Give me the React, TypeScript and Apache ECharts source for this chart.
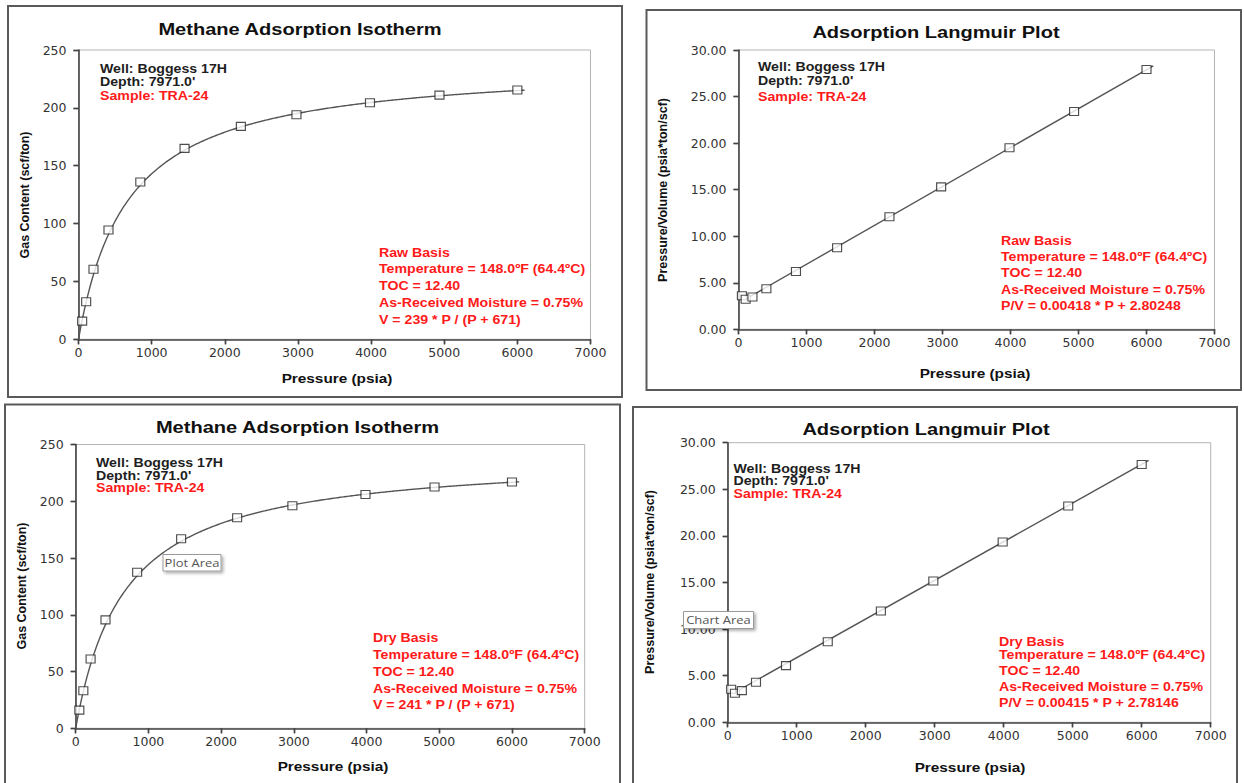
import React, { useEffect, useRef } from "react";
import * as echarts from "echarts";

// Measured isotherm points (pressure in psia)
const PRESSURE = [50, 105, 205, 410, 845, 1450, 2220, 2980, 3985, 4935, 6000];
const GAS_RAW = [15.7, 32.5, 60.5, 94.5, 136, 165, 184, 194, 204.5, 211, 215.5];
const GAS_DRY = [16, 33, 61, 95.5, 137.5, 167, 185.5, 196, 206, 212.5, 217];
const PV_RAW = [3.6, 3.22, 3.47, 4.35, 6.2, 8.75, 12.1, 15.3, 19.5, 23.4, 27.9];
const PV_DRY = [3.55, 3.12, 3.4, 4.3, 6.08, 8.65, 11.95, 15.15, 19.35, 23.2, 27.65];

// Langmuir fit parameters
const RAW_VL = 239;
const RAW_PL = 671;
const DRY_VL = 241;
const DRY_PL = 671;
const RAW_SLOPE = 0.00418;
const RAW_INTERCEPT = 2.80248;
const DRY_SLOPE = 0.00415;
const DRY_INTERCEPT = 2.78146;

const HEADER_LINES = ["Well: Boggess 17H", "Depth: 7971.0'", "Sample: TRA-24"];
const CONDITIONS = ["Temperature = 148.0\u00BAF (64.4\u00BAC)", "TOC = 12.40", "As-Received Moisture = 0.75%"];

const ISO_TITLE = "Methane Adsorption Isotherm";
const LANG_TITLE = "Adsorption Langmuir Plot";
const X_NAME = "Pressure (psia)";
const ISO_Y_NAME = "Gas Content (scf/ton)";
const LANG_Y_NAME = "Pressure/Volume (psia*ton/scf)";

const FIT_END = 6100;
const LINE_START = 100;

const BOLD = '"Liberation Sans", Arial, sans-serif';
const TICK_FONT = '"DejaVu Sans", sans-serif';
const RED = "#ff1a1a";
const INK = "#1e1e1e";
// the sheet's text is set slightly wide
const WIDE = 1.18;

function isothermCurve(vl: number, pl: number) {
  const pts: number[][] = [];
  for (let p = 0; p <= FIT_END; p += 20) pts.push([p, (vl * p) / (p + pl)]);
  return pts;
}

function langmuirLine(slope: number, intercept: number) {
  return [LINE_START, FIT_END].map((p) => [p, slope * p + intercept]);
}

function pairs(ys: number[]) {
  return PRESSURE.map((p, i) => [p, ys[i]]);
}

type Panel = {
  grid: { left: number; top: number; width: number; height: number };
  yMax: number;
  yInterval: number;
  decimals: number;
  points: number[][];
  fit: number[][];
  title: string;
  titleAt: [number, number];
  yName: string;
  yNameAt: [number, number];
  xNameAt: [number, number];
  header: [number, number[]];
  notes: [number, number[]];
  noteLines: string[];
  frame: [number, number, number, number];
};

const panels: Panel[] = [
  {
    grid: { left: 78.5, top: 50, width: 512, height: 289.3 },
    yMax: 250,
    yInterval: 50,
    decimals: 0,
    points: pairs(GAS_RAW),
    fit: isothermCurve(RAW_VL, RAW_PL),
    title: ISO_TITLE,
    titleAt: [300, 29],
    yName: ISO_Y_NAME,
    yNameAt: [25, 195],
    xNameAt: [337, 378],
    header: [100, [69, 82, 96]],
    notes: [379, [253, 269, 286, 303, 320]],
    noteLines: ["Raw Basis", ...CONDITIONS, `V = ${RAW_VL} * P / (P + ${RAW_PL})`],
    frame: [8, 6, 614, 391],
  },
  {
    grid: { left: 738.5, top: 50, width: 476, height: 279.3 },
    yMax: 30,
    yInterval: 5,
    decimals: 2,
    points: pairs(PV_RAW),
    fit: langmuirLine(RAW_SLOPE, RAW_INTERCEPT),
    title: LANG_TITLE,
    titleAt: [936, 32],
    yName: LANG_Y_NAME,
    yNameAt: [663, 190],
    xNameAt: [975, 373],
    header: [758, [67, 81, 97]],
    notes: [1001, [241, 257, 273, 290, 306]],
    noteLines: ["Raw Basis", ...CONDITIONS, `P/V = ${RAW_SLOPE} * P + ${RAW_INTERCEPT}`],
    frame: [646.5, 10, 594.5, 380],
  },
  {
    grid: { left: 75.7, top: 444.5, width: 509, height: 283.8 },
    yMax: 250,
    yInterval: 50,
    decimals: 0,
    points: pairs(GAS_DRY),
    fit: isothermCurve(DRY_VL, DRY_PL),
    title: ISO_TITLE,
    titleAt: [297.5, 427],
    yName: ISO_Y_NAME,
    yNameAt: [22, 586],
    xNameAt: [333, 766],
    header: [96, [463, 475.5, 488]],
    notes: [373, [638, 655, 672, 688.5, 705]],
    noteLines: ["Dry Basis", ...CONDITIONS, `V = ${DRY_VL} * P / (P + ${DRY_PL})`],
    frame: [5, 404.5, 615, 400],
  },
  {
    grid: { left: 727.7, top: 442.7, width: 483, height: 279.6 },
    yMax: 30,
    yInterval: 5,
    decimals: 2,
    points: pairs(PV_DRY),
    fit: langmuirLine(DRY_SLOPE, DRY_INTERCEPT),
    title: LANG_TITLE,
    titleAt: [926, 429],
    yName: LANG_Y_NAME,
    yNameAt: [650, 582],
    xNameAt: [970, 767],
    header: [733.5, [468.5, 481, 493.5]],
    notes: [999, [641.5, 654.5, 670.5, 687, 703]],
    noteLines: ["Dry Basis", ...CONDITIONS, `P/V = ${DRY_SLOPE} * P + ${DRY_INTERCEPT}`],
    frame: [633, 407, 604, 400],
  },
];

const AXIS_COLOR = "#444";

function text(x: number, y: number, str: string, font: string, fill: string, align: string, extra: any = {}) {
  return {
    type: "text",
    x,
    y,
    scaleX: WIDE,
    ...extra,
    style: { text: str, font, fill, align, verticalAlign: "middle" },
  };
}

function buildOption() {
  const grid: any[] = [];
  const xAxis: any[] = [];
  const yAxis: any[] = [];
  const series: any[] = [];
  const graphic: any[] = [];

  panels.forEach((pn, i) => {
    grid.push({
      ...pn.grid,
      show: true,
      borderColor: "#b4b4b4",
      borderWidth: 1,
      backgroundColor: "transparent",
    });

    const baseX = {
      gridIndex: i,
      type: "value",
      min: 0,
      max: 7000,
      interval: 1000,
      splitLine: { show: false },
    };
    const baseY = {
      gridIndex: i,
      type: "value",
      min: 0,
      max: pn.yMax,
      interval: pn.yInterval,
      splitLine: { show: false },
    };
    // main axes: line, outward ticks and labels
    xAxis.push({
      ...baseX,
      axisLine: { show: true, onZero: false, lineStyle: { color: AXIS_COLOR, width: 1.6 } },
      axisTick: { show: true, length: 5, lineStyle: { color: AXIS_COLOR, width: 1.4 } },
      axisLabel: {
        color: "#333",
        fontSize: 12.5,
        fontFamily: TICK_FONT,
        margin: 7,
        formatter: (v: number) => String(v),
      },
    });
    yAxis.push({
      ...baseY,
      axisLine: { show: true, onZero: false, lineStyle: { color: AXIS_COLOR, width: 1.6 } },
      axisTick: { show: true, length: 5, lineStyle: { color: AXIS_COLOR, width: 1.4 } },
      axisLabel: {
        color: "#333",
        fontSize: 12.5,
        fontFamily: TICK_FONT,
        margin: 12,
        formatter: (v: number) => v.toFixed(pn.decimals),
      },
    });
    // companion axes: the inner half of the crossing tick marks
    xAxis.push({
      ...baseX,
      axisLine: { show: false },
      axisTick: { show: true, inside: true, length: 5, lineStyle: { color: AXIS_COLOR, width: 1.4 } },
      axisLabel: { show: false },
    });
    yAxis.push({
      ...baseY,
      axisLine: { show: false },
      axisTick: { show: true, inside: true, length: 5, lineStyle: { color: AXIS_COLOR, width: 1.4 } },
      axisLabel: { show: false },
    });

    const xi = i * 2;
    series.push({
      type: "line",
      xAxisIndex: xi,
      yAxisIndex: xi,
      data: pn.fit,
      showSymbol: false,
      symbol: "none",
      lineStyle: { color: "#555", width: 1.4 },
      z: 2,
      silent: true,
    });
    series.push({
      type: "scatter",
      xAxisIndex: xi,
      yAxisIndex: xi,
      data: pn.points,
      symbol: "rect",
      symbolSize: [9, 8],
      itemStyle: { color: "#fff", borderColor: "#222", borderWidth: 1.1 },
      z: 3,
    });

    // panel frame
    graphic.push({
      type: "rect",
      shape: { x: pn.frame[0], y: pn.frame[1], width: pn.frame[2], height: pn.frame[3] },
      style: { fill: "none", stroke: "#5a5a5a", lineWidth: 2 },
      z: 0,
      silent: true,
    });
    graphic.push(text(pn.titleAt[0], pn.titleAt[1], pn.title, `bold 17px ${BOLD}`, "#111", "center"));
    graphic.push(text(pn.xNameAt[0], pn.xNameAt[1], X_NAME, `bold 13px ${BOLD}`, "#111", "center"));
    graphic.push({
      type: "text",
      x: pn.yNameAt[0],
      y: pn.yNameAt[1],
      rotation: Math.PI / 2,
      style: {
        text: pn.yName,
        font: `bold 12.5px ${BOLD}`,
        fill: "#111",
        align: "center",
        verticalAlign: "middle",
      },
    });
    // well / depth / sample block
    HEADER_LINES.forEach((line, k) => {
      graphic.push(text(pn.header[0], pn.header[1][k], line, `bold 12px ${BOLD}`, k === 2 ? RED : INK, "left"));
    });
    // basis / fit block
    pn.noteLines.forEach((line, k) => {
      graphic.push(text(pn.notes[0], pn.notes[1][k], line, `bold 12px ${BOLD}`, RED, "left"));
    });
  });

  // hover hint boxes
  const hints: [string, number, number, number, number][] = [
    ["Plot Area", 163, 554.5, 58, 16.5],
    ["Chart Area", 683.5, 611.5, 70, 17],
  ];
  hints.forEach(([label, x, y, w, h]) => {
    graphic.push({
      type: "rect",
      shape: { x, y, width: w, height: h },
      style: {
        fill: "#fff",
        stroke: "#9a9a9a",
        lineWidth: 1,
        shadowBlur: 3,
        shadowOffsetX: 2,
        shadowOffsetY: 2,
        shadowColor: "rgba(0,0,0,0.3)",
      },
      z: 100,
    });
    graphic.push(
      text(x + w / 2, y + h / 2, label, '11px "Open Sans", sans-serif', "#555", "center", { z: 101 })
    );
  });

  return {
    animation: false,
    backgroundColor: "#fff",
    grid,
    xAxis,
    yAxis,
    series,
    graphic,
  };
}

export default function App() {
  const ref = useRef<HTMLDivElement>(null);

  useEffect(() => {
    if (!ref.current) return;
    const chart = echarts.init(ref.current, undefined, { renderer: "svg" });
    chart.setOption(buildOption() as any);
    return () => chart.dispose();
  }, []);

  return (
    <div
      ref={ref}
      style={{ position: "absolute", left: 0, top: 0, width: 1244, height: 783, background: "#fff" }}
    />
  );
}
